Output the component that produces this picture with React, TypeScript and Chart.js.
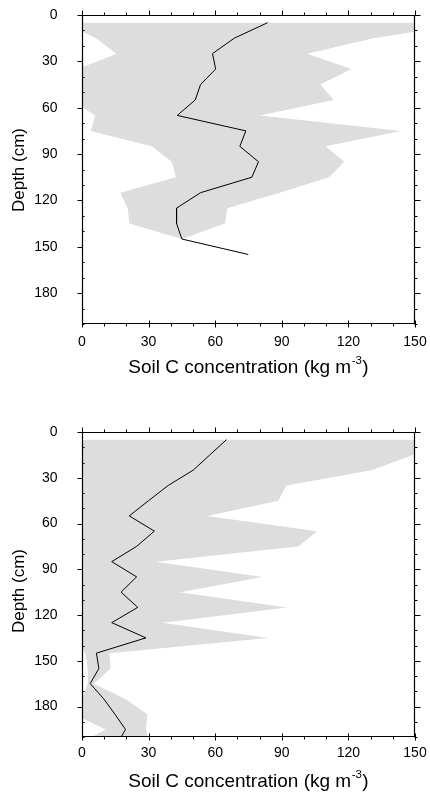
import React, { useEffect, useRef } from 'react';
import { Chart, registerables } from 'chart.js';

Chart.register(...registerables);

const FONT = "'Liberation Sans', Arial, Helvetica, sans-serif";

// axis ticks and titles
const concTicks = [0, 30, 60, 90, 120, 150];
const depthTicks = [0, 30, 60, 90, 120, 150, 180];
const xTitleMain = 'Soil C concentration (kg m';
const xTitleSup = '-3';
const xTitleEnd = ')';
const yTitle = 'Depth (cm)';

// top panel: mean profile
const topDepths = [5, 15, 25, 35, 45, 55, 65, 75, 85, 95, 105, 115, 125, 135, 145, 155];
const topMean = [83.6, 68.6, 58.8, 60.2, 53.4, 51.0, 42.9, 73.8, 71.1, 79.5, 76.5, 53.4, 42.6, 42.6, 45.0, 74.9];
// top panel: range envelope
const topRangeDepths = [5, 15, 25, 35, 45, 55, 65, 75, 85, 95, 105, 115, 125, 135, 145];
const topMin = [-8, 6.3, 15.6, -2, -4, -5, 5.9, 3.9, 31.4, 40.4, 42.3, 17.3, 20.6, 21.3, 45.0];
const topMax = [176, 131.2, 101.4, 121.4, 107.4, 113.4, 80.1, 143.6, 109.8, 118.1, 111.3, 89.0, 65.5, 64.4, 45.0];

// bottom panel: mean profile
const bottomDepths = [5, 15, 25, 35, 45, 55, 65, 75, 85, 95, 105, 115, 125, 135, 145, 155, 165, 175, 185, 195, 205];
const bottomMean = [65.1, 57.6, 50.1, 38.9, 30.0, 21.3, 32.6, 24.6, 13.4, 24.6, 17.6, 25.1, 13.4, 28.8, 6.5, 7.6, 3.7, 9.8, 14.8, 19.6, 15.7];
// bottom panel: range envelope
const bottomMin = [-6, -9, -12, -10, -8, -7, -9, -6, -4, -7, -5, -6, -4, -3, 1.5, 2.6, 2.6, 0, -4, 10.6, -1.6];
const bottomMax = [160, 149, 130.4, 92.1, 88.4, 56.4, 105.9, 97.4, 33.3, 81.3, 44.1, 92.4, 36.3, 83.9, 12.3, 12.9, 5.4, 19.5, 29.5, 28.8, 30.5];

type Pt = { x: number; y: number };

function profile(depths: number[], values: number[]): Pt[] {
  return depths.map((d, i) => ({ x: values[i], y: d }));
}

function envelope(depths: number[], lo: number[], hi: number[]): Pt[] {
  const left = depths.map((d, i) => ({ x: lo[i], y: d }));
  const right = depths.map((d, i) => ({ x: hi[i], y: d })).reverse();
  return [...left, ...right];
}

const axisDecor = {
  id: 'axisDecor',
  afterDraw(chart: any, _args: any, opts: any) {
    const { ctx, chartArea: a } = chart;
    const xs = chart.scales.x;
    const ys = chart.scales.y;
    ctx.save();
    ctx.strokeStyle = '#000';
    ctx.lineWidth = 1.2;
    const L = Math.round(a.left) + 0.5;
    const R = Math.round(a.right) - 0.5;
    const T = Math.round(a.top) + 0.5;
    const B = Math.round(a.bottom) - 0.5;
    ctx.beginPath();
    ctx.rect(L, T, R - L, B - T);
    ctx.stroke();

    ctx.lineWidth = 1;
    ctx.beginPath();
    for (let v = xs.min; v <= xs.max + 1e-6; v += 10) {
      const p = Math.round(xs.getPixelForValue(v)) + 0.5;
      const major = concTicks.includes(v);
      // bottom
      if (major) { ctx.moveTo(p, B - 3); ctx.lineTo(p, B + 4); }
      else { ctx.moveTo(p, B); ctx.lineTo(p, B + 3); }
      // top
      if (major) { ctx.moveTo(p, T); ctx.lineTo(p, T - 5); }
      else { ctx.moveTo(p, T); ctx.lineTo(p, T - 3); }
    }
    for (let v = ys.min; v <= ys.max + 1e-6; v += 10) {
      const p = Math.round(ys.getPixelForValue(v)) + 0.5;
      const major = depthTicks.includes(v);
      // left
      if (major) { ctx.moveTo(L, p); ctx.lineTo(L - 5, p); }
      else { ctx.moveTo(L, p); ctx.lineTo(L + 2, p); }
      // right
      if (major) { ctx.moveTo(R, p); ctx.lineTo(R + 6, p); }
      else { ctx.moveTo(R, p); ctx.lineTo(R + 3, p); }
    }
    ctx.stroke();

    // x title with superscript
    ctx.fillStyle = '#000';
    ctx.textBaseline = 'alphabetic';
    ctx.textAlign = 'left';
    const mainFont = `19px ${FONT}`;
    const supFont = `11.5px ${FONT}`;
    ctx.font = mainFont;
    const w1 = ctx.measureText(xTitleMain).width;
    const w3 = ctx.measureText(xTitleEnd).width;
    ctx.font = supFont;
    const w2 = ctx.measureText(xTitleSup).width;
    const cx = (a.left + a.right) / 2;
    let x0 = cx - (w1 + w2 + w3 + 1) / 2;
    const by = opts.xTitleY;
    ctx.font = mainFont;
    ctx.fillText(xTitleMain, x0, by);
    x0 += w1 + 0.5;
    ctx.font = supFont;
    ctx.fillText(xTitleSup, x0, by - 9.5);
    x0 += w2 + 0.5;
    ctx.font = mainFont;
    ctx.fillText(xTitleEnd, x0, by);

    // y title
    ctx.save();
    ctx.translate(opts.yTitleX, opts.yTitleY);
    ctx.rotate(-Math.PI / 2);
    ctx.textAlign = 'center';
    ctx.font = `17px ${FONT}`;
    ctx.fillText(yTitle, 0, 0);
    ctx.restore();

    ctx.restore();
  },
};

type PanelCfg = {
  mean: Pt[];
  range: Pt[];
  padTop: number;
  xAxisHeight: number;
  xTickGap: number;
  xTitleY: number;
  yTitleX: number;
  yTitleY: number;
};

function Panel({ cfg }: { cfg: PanelCfg }) {
  const ref = useRef<HTMLCanvasElement | null>(null);
  useEffect(() => {
    if (!ref.current) return;
    const chart = new Chart(ref.current, {
      type: 'line',
      data: {
        datasets: [
          {
            label: 'mean',
            data: cfg.mean,
            borderColor: '#000',
            borderWidth: 1,
            pointRadius: 0,
            fill: false,
            tension: 0,
            order: 0,
          },
          {
            label: 'range',
            data: cfg.range,
            borderColor: 'rgba(0,0,0,0)',
            borderWidth: 0,
            backgroundColor: '#dddddd',
            pointRadius: 0,
            fill: 'shape',
            tension: 0,
            order: 1,
          },
        ],
      } as any,
      plugins: [axisDecor],
      options: {
        responsive: false,
        animation: false,
        devicePixelRatio: 1,
        events: [],
        layout: { padding: { top: cfg.padTop, right: 15, bottom: 0, left: 0 } },
        plugins: {
          legend: { display: false },
          tooltip: { enabled: false },
          axisDecor: { xTitleY: cfg.xTitleY, yTitleX: cfg.yTitleX, yTitleY: cfg.yTitleY },
        } as any,
        scales: {
          x: {
            type: 'linear',
            position: 'bottom',
            min: 0,
            max: 150,
            afterBuildTicks: (s: any) => {
              s.ticks = concTicks.map((v) => ({ value: v }));
            },
            afterFit: (s: any) => {
              s.height = cfg.xAxisHeight;
            },
            grid: {
              display: true,
              drawOnChartArea: false,
              drawTicks: true,
              tickLength: cfg.xTickGap,
              tickColor: 'rgba(0,0,0,0)',
            },
            border: { display: false },
            ticks: {
              padding: 2,
              color: '#000',
              maxRotation: 0,
              autoSkip: false,
              font: { family: FONT, size: 14 },
            },
          },
          y: {
            type: 'linear',
            position: 'left',
            reverse: true,
            min: 0,
            max: 200,
            afterBuildTicks: (s: any) => {
              s.ticks = depthTicks.map((v) => ({ value: v }));
            },
            afterFit: (s: any) => {
              s.width = 82;
            },
            grid: {
              display: true,
              drawOnChartArea: false,
              drawTicks: true,
              tickLength: 22,
              tickColor: 'rgba(0,0,0,0)',
            },
            border: { display: false },
            ticks: {
              padding: 2.5,
              color: '#000',
              autoSkip: false,
              font: { family: FONT, size: 14 },
            },
          },
        },
      } as any,
    });
    return () => chart.destroy();
  }, [cfg]);
  return (
    <canvas
      ref={ref}
      width={430}
      height={397}
      style={{ display: 'block', width: 430, height: 397 }}
    />
  );
}

const topCfg: PanelCfg = {
  mean: profile(topDepths, topMean),
  range: envelope(topRangeDepths, topMin, topMax),
  padTop: 15,
  xAxisHeight: 73,
  xTickGap: 8,
  xTitleY: 373,
  yTitleX: 24,
  yTitleY: 170,
};

const bottomCfg: PanelCfg = {
  mean: profile(bottomDepths, bottomMean),
  range: envelope(bottomDepths, bottomMin, bottomMax),
  padTop: 35,
  xAxisHeight: 57,
  xTickGap: 6,
  xTitleY: 390,
  yTitleX: 24,
  yTitleY: 194,
};

export default function App() {
  return (
    <div
      style={{
        position: 'absolute',
        left: 0,
        top: 0,
        width: 430,
        height: 794,
        background: '#fff',
      }}
    >
      <Panel cfg={topCfg} />
      <Panel cfg={bottomCfg} />
    </div>
  );
}
